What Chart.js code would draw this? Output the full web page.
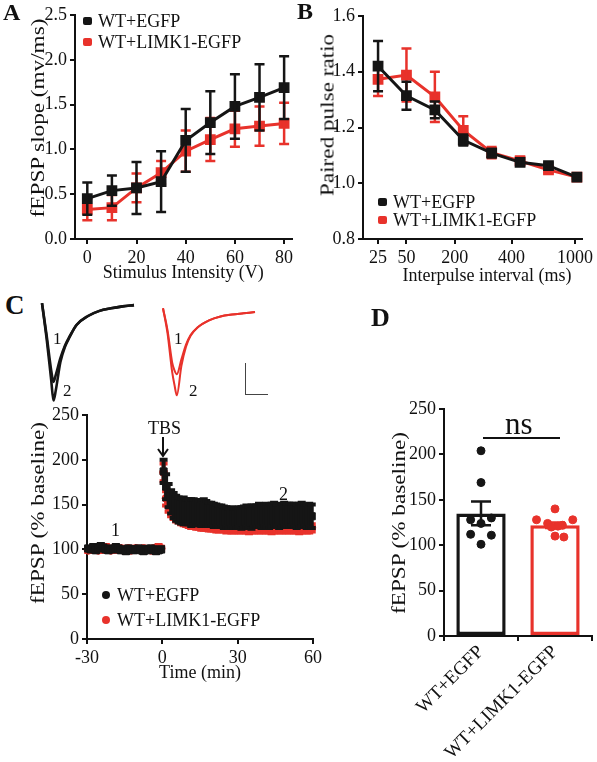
<!DOCTYPE html>
<html>
<head>
<meta charset="utf-8">
<title>LIMK1 fEPSP figure</title>
<script src="https://cdn.jsdelivr.net/npm/chart.js@4.4.0/dist/chart.umd.min.js"></script>
<style>
body { margin: 0; background: #fff; font-family: "Liberation Serif", "Times New Roman", serif; color: #111; }
#fig { position: relative; width: 597px; height: 762px; overflow: hidden; }
canvas { position: absolute; }
.lbl { position: absolute; font-weight: bold; font-size: 24px; line-height: 1; }
.txt { position: absolute; font-size: 18px; line-height: 1; white-space: nowrap; }
.ytitle { position: absolute; font-size: 19px; line-height: 1; white-space: nowrap; transform: translate(-50%, -50%) rotate(-90deg) scaleX(1.22); }
.xtitle { position: absolute; font-size: 18px; line-height: 1; white-space: nowrap; transform: translate(-50%, -50%); }
.mk { position: absolute; width: 9px; height: 8px; border-radius: 2px; }
.dot { position: absolute; width: 8px; height: 8px; border-radius: 50%; }
</style>
</head>
<body>
<div id="fig">
    <canvas id="cA" width="300" height="290" style="left:0;top:0"></canvas>
    <canvas id="cB" width="302" height="290" style="left:295px;top:0"></canvas>
    <canvas id="cTrWT" width="100" height="114" style="left:38px;top:296px"></canvas>
    <canvas id="cTrLimk" width="100" height="114" style="left:159px;top:301px"></canvas>
    <canvas id="cC" width="330" height="290" style="left:0;top:400px"></canvas>
    <canvas id="cD" width="267" height="472" style="left:330px;top:290px"></canvas>

    <!-- panel letters -->
    <div class="lbl" style="left:3px;top:0px">A</div>
    <div class="lbl" style="left:297px;top:-1px">B</div>
    <div class="lbl" style="left:5px;top:292px;font-size:27px">C</div>
    <div class="lbl" style="left:371px;top:305px;font-size:26px">D</div>

    <!-- axis titles -->
    <div class="ytitle" style="left:37px;top:118px">fEPSP slope (mv/ms)</div>
    <div class="ytitle" style="left:327px;top:115px">Paired pulse ratio</div>
    <div class="xtitle" style="left:487px;top:275px">Interpulse interval (ms)</div>
    <div class="ytitle" style="left:37px;top:513px">fEPSP (% baseline)</div>
    <div class="ytitle" style="left:398px;top:523px">fEPSP (% baseline)</div>

    <!-- legend A -->
    <div class="mk" style="left:83px;top:17px;background:#151515"></div>
    <div class="txt" style="left:98px;top:12px">WT+EGFP</div>
    <div class="mk" style="left:83px;top:38px;background:#e8322b"></div>
    <div class="txt" style="left:98px;top:33px">WT+LIMK1-EGFP</div>

    <!-- legend B -->
    <div class="mk" style="left:378px;top:198px;background:#151515"></div>
    <div class="txt" style="left:393px;top:193px">WT+EGFP</div>
    <div class="mk" style="left:378px;top:216px;background:#e8322b"></div>
    <div class="txt" style="left:393px;top:211px">WT+LIMK1-EGFP</div>

    <!-- traces C -->
    <div class="txt" style="left:53px;top:330px;font-size:17px">1</div>
    <div class="txt" style="left:63px;top:382px;font-size:17px">2</div>
    <div class="txt" style="left:174px;top:330px;font-size:17px">1</div>
    <div class="txt" style="left:189px;top:382px;font-size:17px">2</div>
    <div style="position:absolute;left:245px;top:363px;width:22px;height:31px;border-left:1.5px solid #444;border-bottom:1.5px solid #444"></div>

    <!-- annotations C -->
    <div class="txt" style="left:148px;top:419px">TBS</div>
    <svg style="position:absolute;left:155px;top:437px" width="16" height="22">
        <line x1="8" y1="0" x2="8" y2="19" stroke="#111" stroke-width="2"/>
        <polyline points="3,12 8,19 13,12" fill="none" stroke="#111" stroke-width="2"/>
    </svg>
    <div class="txt" style="left:111px;top:521px">1</div>
    <div class="txt" style="left:279px;top:485px">2</div>
    <div class="dot" style="left:102px;top:591px;background:#151515"></div>
    <div class="txt" style="left:117px;top:586px">WT+EGFP</div>
    <div class="dot" style="left:102px;top:616px;background:#e8322b"></div>
    <div class="txt" style="left:117px;top:611px">WT+LIMK1-EGFP</div>

    <!-- annotations D -->
    <div class="txt" style="left:505px;top:408px;font-size:31px">ns</div>
    <div style="position:absolute;left:483px;top:437px;width:77px;border-top:2px solid #111"></div>
</div>

<script>
// ---- A: input/output ----
var ioX = [0, 10, 20, 30, 40, 50, 60, 70, 80];
var ioWT = [0.45, 0.54, 0.57, 0.64, 1.10, 1.30, 1.48, 1.58, 1.69];
var ioWTErr = [0.18, 0.17, 0.29, 0.34, 0.35, 0.35, 0.36, 0.37, 0.35];
var ioLimk = [0.33, 0.35, 0.57, 0.74, 0.98, 1.11, 1.23, 1.26, 1.29];
var ioLimkErr = [0.12, 0.14, 0.16, 0.13, 0.23, 0.24, 0.20, 0.22, 0.23];
var ioTicks = [0, 20, 40, 60, 80];

// ---- B: paired pulse ----
var ppfPos = [0, 1, 2, 3, 4, 5, 6, 7];
var ppfWT = [1.42, 1.314, 1.263, 1.155, 1.108, 1.075, 1.063, 1.022];
var ppfWTErr = [0.09, 0.05, 0.03, 0.02, 0.015, 0.01, 0.01, 0.005];
var ppfLimk = [1.373, 1.388, 1.31, 1.19, 1.11, 1.08, 1.048, 1.022];
var ppfLimkErr = [0.06, 0.095, 0.09, 0.05, 0.02, 0.015, 0.01, 0.005];
var ppfTickPos = [0, 1, 2.7, 4.7, 6.93];
var ppfTickLbl = ['25', '50', '200', '400', '1000'];

// ---- C: example traces (ms, mV) ----
var trT = [0, 2, 4, 5, 6, 8, 10, 12, 15, 20, 25, 30, 35, 40];
var trWT1 = [0, -0.5, -1.05, -1.23, -1.12, -0.86, -0.66, -0.52, -0.34, -0.2, -0.12, -0.08, -0.05, -0.03];
var trWT2 = [0, -0.55, -1.2, -1.52, -1.36, -0.92, -0.68, -0.53, -0.34, -0.2, -0.12, -0.08, -0.05, -0.03];
var trLimk1 = [0, -0.35, -0.85, -0.97, -1.03, -0.8, -0.57, -0.42, -0.3, -0.19, -0.13, -0.1, -0.08, -0.06];
var trLimk2 = [0, -0.4, -1.0, -1.2, -1.36, -0.9, -0.6, -0.43, -0.3, -0.19, -0.13, -0.1, -0.08, -0.06];

// ---- C: LTP time course ----
var baseT = [-29.5, -28.5, -27.5, -26.5, -25.5, -24.5, -23.5, -22.5, -21.5, -20.5,
    -19.5, -18.5, -17.5, -16.5, -15.5, -14.5, -13.5, -12.5, -11.5, -10.5,
    -9.5, -8.5, -7.5, -6.5, -5.5, -4.5, -3.5, -2.5, -1.5, -0.5];
var postT = [0.5, 1.5, 2.5, 3.5, 4.5, 5.5, 6.5, 7.5, 8.5, 9.5,
    10.5, 11.5, 12.5, 13.5, 14.5, 15.5, 16.5, 17.5, 18.5, 19.5,
    20.5, 21.5, 22.5, 23.5, 24.5, 25.5, 26.5, 27.5, 28.5, 29.5,
    30.5, 31.5, 32.5, 33.5, 34.5, 35.5, 36.5, 37.5, 38.5, 39.5,
    40.5, 41.5, 42.5, 43.5, 44.5, 45.5, 46.5, 47.5, 48.5, 49.5,
    50.5, 51.5, 52.5, 53.5, 54.5, 55.5, 56.5, 57.5, 58.5, 59.5];
var wtBase = [101, 100, 102, 99, 101, 103, 102, 100, 99, 101, 100, 102, 101, 99, 100, 98, 101, 100, 99, 100, 101, 99, 98, 100, 99, 101, 100, 98, 99, 100];
var wtBaseErr = [2, 2, 3, 2, 2, 3, 2, 2, 2, 2, 2, 3, 2, 2, 2, 2, 2, 2, 2, 2, 2, 2, 2, 3, 2, 2, 2, 2, 2, 2];
var limkBase = [99, 100, 101, 100, 99, 101, 100, 102, 100, 99, 101, 100, 100, 101, 99, 100, 101, 99, 100, 101, 100, 99, 101, 100, 100, 99, 101, 100, 102, 101];
var limkBaseErr = [2, 2, 2, 2, 2, 2, 2, 3, 2, 2, 2, 2, 2, 2, 2, 2, 2, 2, 2, 2, 2, 2, 2, 2, 2, 2, 2, 2, 3, 2];
var wtPost = [187, 170, 160, 153, 149, 146, 144, 143, 143, 142,
    142, 141, 142, 141, 141, 140, 141, 140, 139, 139,
    138, 138, 137, 137, 136, 136, 135, 136, 135, 135,
    136, 135, 136, 137, 136, 136, 137, 137, 138, 137,
    138, 138, 137, 138, 139, 138, 137, 138, 139, 138,
    138, 139, 138, 137, 138, 139, 138, 137, 138, 137];
var wtPostErr = [13, 14, 13, 13, 14, 14, 14, 14, 15, 14,
    14, 15, 14, 14, 14, 14, 15, 14, 13, 13,
    13, 12, 12, 12, 12, 11, 11, 11, 11, 11,
    11, 12, 12, 12, 12, 13, 12, 12, 13, 13,
    12, 13, 13, 13, 13, 12, 13, 13, 13, 13,
    13, 12, 13, 13, 13, 13, 12, 13, 13, 13];
var limkPost = [186, 157, 148, 142, 139, 136, 134, 132, 131, 130,
    129, 128, 128, 127, 127, 126, 126, 126, 125, 125,
    125, 124, 124, 125, 124, 123, 124, 123, 123, 124,
    123, 123, 124, 123, 122, 123, 123, 124, 123, 123,
    124, 123, 123, 122, 123, 124, 123, 123, 124, 123,
    123, 124, 123, 123, 122, 123, 124, 123, 123, 124];
var limkPostErr = [10, 8, 6, 5, 5, 5, 4, 4, 4, 4,
    4, 4, 4, 4, 4, 4, 4, 4, 4, 4,
    4, 4, 4, 4, 4, 4, 4, 4, 4, 4,
    4, 4, 4, 4, 4, 4, 4, 4, 4, 4,
    4, 4, 4, 4, 4, 4, 4, 4, 4, 4,
    4, 4, 4, 4, 4, 4, 4, 4, 4, 4];

// ---- D: LTP summary ----
var barCats = ['WT+EGFP', 'WT+LIMK1-EGFP'];
var barMean = [135, 122];
var barSem = [13, 3];
var dotsWT = [204, 169, 130, 128, 124, 112, 111, 101];
var dotsWTOff = [0, 0, 0.14, -0.14, 0, -0.14, 0.14, 0];
var dotsLimk = [140, 128, 128, 124, 122, 121, 120, 110, 109];
var dotsLimkOff = [0, -0.25, 0.24, -0.1, 0.1, 0.04, -0.05, 0, 0.12];

var BLACK = '#151515';
var RED = '#e8322b';

Chart.defaults.font.family = '"Liberation Serif", "Times New Roman", serif';
Chart.defaults.font.size = 18;
Chart.defaults.color = '#111';
Chart.defaults.animation = false;
Chart.defaults.plugins.legend.display = false;
Chart.defaults.plugins.tooltip.enabled = false;

// error bars drawn right after each dataset so later datasets cover them
var errPlugin = {
    id: 'errbars',
    afterDatasetDraw: function(chart, args) {
        var ds = chart.data.datasets[args.index];
        if (!ds.errs) return;
        var meta = args.meta;
        var ys = chart.scales[meta.yAxisID];
        var ctx = chart.ctx;
        var cap = ds.capW || 10;
        ctx.save();
        ctx.lineWidth = ds.errWidth || 2;
        meta.data.forEach(function(el, i) {
            var d = ds.data[i];
            var v = (typeof d === 'object') ? d.y : d;
            var e = ds.errs[i];
            var col = Array.isArray(ds.borderColor) ? ds.borderColor[i] : ds.borderColor;
            var y1 = ys.getPixelForValue(v + e);
            var y2 = ys.getPixelForValue(v - e);
            ctx.strokeStyle = col;
            ctx.beginPath();
            ctx.moveTo(el.x, y1); ctx.lineTo(el.x, y2);
            ctx.moveTo(el.x - cap / 2, y1); ctx.lineTo(el.x + cap / 2, y1);
            ctx.moveTo(el.x - cap / 2, y2); ctx.lineTo(el.x + cap / 2, y2);
            ctx.stroke();
        });
        ctx.restore();
    }
};

function xy(xs, ys) {
    return ys.map(function(v, i) { return { x: xs[i], y: v }; });
}

function axis(extra) {
    var s = {
        grid: { display: true, drawOnChartArea: false, drawTicks: true, tickLength: 5, color: '#111', lineWidth: 2 },
        border: { display: true, color: '#111', width: 2 },
        ticks: { color: '#111', padding: 3, font: { size: 18 } }
    };
    for (var k in extra) {
        if (k === 'ticks') Object.assign(s.ticks, extra.ticks);
        else s[k] = extra[k];
    }
    return s;
}

// ---- A ----
new Chart(document.getElementById('cA'), {
    type: 'line',
    data: {
        datasets: [{
            data: xy(ioX, ioWT), errs: ioWTErr, borderColor: BLACK, backgroundColor: BLACK,
            borderWidth: 3, pointStyle: 'rect', pointRadius: 5.5, capW: 10, errWidth: 2.5, clip: false
        }, {
            data: xy(ioX, ioLimk), errs: ioLimkErr, borderColor: RED, backgroundColor: RED,
            borderWidth: 3, pointStyle: 'rect', pointRadius: 5.5, capW: 10, errWidth: 2.5, clip: false
        }]
    },
    options: {
        responsive: false,
        layout: { padding: { top: 15, right: 5, left: 0, bottom: 0 } },
        scales: {
            x: axis({
                type: 'linear', min: -5, max: 83,
                afterBuildTicks: function(s) { s.ticks = ioTicks.map(function(v) { return { value: v }; }); },
                afterFit: function(s) { s.height = 51; },
                title: { display: true, text: 'Stimulus Intensity (V)', font: { size: 18 }, padding: { top: 0, bottom: 6 } }
            }),
            y: axis({
                min: 0, max: 2.5,
                ticks: { stepSize: 0.5, callback: function(v) { return v.toFixed(1); } },
                afterFit: function(s) { s.width = 75; }
            })
        }
    },
    plugins: [errPlugin]
});

// ---- B ----
new Chart(document.getElementById('cB'), {
    type: 'line',
    data: {
        datasets: [{
            data: xy(ppfPos, ppfWT), errs: ppfWTErr, borderColor: BLACK, backgroundColor: BLACK,
            borderWidth: 3, pointStyle: 'rect', pointRadius: 5.5, capW: 10, errWidth: 2.5, clip: false
        }, {
            data: xy(ppfPos, ppfLimk), errs: ppfLimkErr, borderColor: RED, backgroundColor: RED,
            borderWidth: 3, pointStyle: 'rect', pointRadius: 5.5, capW: 10, errWidth: 2.5, clip: false
        }]
    },
    options: {
        responsive: false,
        layout: { padding: { top: 16, right: 15, left: 0, bottom: 0 } },
        scales: {
            x: axis({
                type: 'linear', min: -0.53, max: 7.18,
                afterBuildTicks: function(s) { s.ticks = ppfTickPos.map(function(v) { return { value: v }; }); },
                ticks: { callback: function(v, i) { return ppfTickLbl[i]; } },
                afterFit: function(s) { s.height = 51; }
            }),
            y: axis({
                min: 0.8, max: 1.6,
                ticks: { stepSize: 0.2, callback: function(v) { return v.toFixed(1); } },
                afterFit: function(s) { s.width = 68; }
            })
        }
    },
    plugins: [errPlugin]
});

// ---- C traces ----
function traceChart(id, a, b, col, w) {
    new Chart(document.getElementById(id), {
        type: 'line',
        data: {
            datasets: [
                { data: xy(trT, a), borderColor: col, borderWidth: w, pointRadius: 0, cubicInterpolationMode: 'monotone', clip: false },
                { data: xy(trT, b), borderColor: col, borderWidth: w, pointRadius: 0, cubicInterpolationMode: 'monotone', clip: false }
            ]
        },
        options: {
            responsive: false,
            layout: { padding: { left: 4, right: 4, top: 4, bottom: 5 } },
            scales: {
                x: { type: 'linear', display: false, min: 0, max: 40 },
                y: { display: false, min: -1.59, max: 0.05 }
            }
        }
    });
}
traceChart('cTrWT', trWT1, trWT2, BLACK, 2.6);
traceChart('cTrLimk', trLimk1, trLimk2, RED, 2);

// ---- C time course ----
var allT = baseT.concat(postT);
new Chart(document.getElementById('cC'), {
    type: 'scatter',
    data: {
        datasets: [{
            data: xy(allT, wtBase.concat(wtPost)), errs: wtBaseErr.concat(wtPostErr),
            borderColor: BLACK, backgroundColor: BLACK, pointStyle: 'rect', pointRadius: 5, capW: 8, errWidth: 4, clip: false
        }, {
            data: xy(allT, limkBase.concat(limkPost)), errs: limkBaseErr.concat(limkPostErr),
            borderColor: RED, backgroundColor: RED, pointRadius: 4, capW: 8, errWidth: 4, clip: false
        }]
    },
    options: {
        responsive: false,
        layout: { padding: { top: 15, right: 17, left: 0, bottom: 0 } },
        scales: {
            x: axis({
                type: 'linear', min: -30, max: 60,
                ticks: { stepSize: 30 },
                afterFit: function(s) { s.height = 51; },
                title: { display: true, text: 'Time (min)', font: { size: 18 }, padding: { top: 0, bottom: 6 } }
            }),
            y: axis({
                min: 0, max: 250,
                ticks: { stepSize: 50 },
                afterFit: function(s) { s.width = 87; }
            })
        }
    },
    plugins: [errPlugin]
});

// ---- D ----
new Chart(document.getElementById('cD'), {
    type: 'bar',
    data: {
        datasets: [{
            type: 'scatter',
            data: xy(dotsWTOff.map(function(o) { return 0 + o; }), dotsWT),
            backgroundColor: BLACK, borderColor: BLACK, pointRadius: 4, clip: false
        }, {
            type: 'scatter',
            data: xy(dotsLimkOff.map(function(o) { return 1 + o; }), dotsLimk),
            backgroundColor: RED, borderColor: RED, pointRadius: 4, clip: false
        }, {
            type: 'bar', data: xy([0, 1], barMean), errs: barSem, capW: 20, errWidth: 2.5,
            backgroundColor: '#fff', borderColor: [BLACK, RED], borderWidth: 3.5, borderSkipped: false,
            barPercentage: 0.667, categoryPercentage: 1
        }]
    },
    options: {
        responsive: false,
        layout: { padding: { top: 119, right: 0, left: 0, bottom: 0 } },
        scales: {
            x: axis({
                type: 'linear', offset: false, min: -0.5, max: 1.5,
                afterBuildTicks: function(s) { s.ticks = [{ value: 0 }, { value: 1 }]; },
                ticks: { minRotation: 45, maxRotation: 45, padding: 0, font: { size: 19 },
                    callback: function(v, i) { return barCats[i]; } },
                afterFit: function(s) { s.height = 126; }
            }),
            y: axis({
                min: 0, max: 250,
                ticks: { stepSize: 50 },
                afterFit: function(s) { s.width = 114; }
            })
        }
    },
    plugins: [errPlugin]
});
</script>
</body>
</html>
